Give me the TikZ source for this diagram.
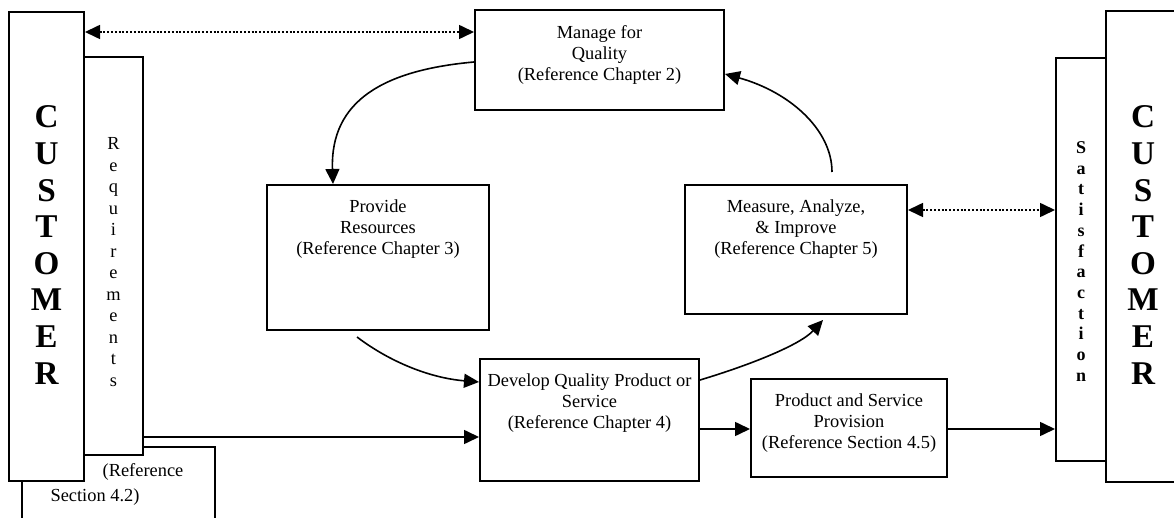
\documentclass[tikz,border=0pt]{standalone}
\usepackage{fontspec}
\setmainfont{Liberation Serif}
\usetikzlibrary{arrows.meta}
\begin{document}
\begin{tikzpicture}[x=0.5pt,y=-0.5pt,
  box/.style={draw,line width=1pt,fill=white,rectangle,inner sep=0pt},
  txt/.style={align=center,font=\fontsize{9.2}{10.7}\selectfont,inner sep=0pt},
  bigletter/.style={anchor=base,inner sep=0pt,font=\bfseries\fontsize{16.6}{18}\selectfont},
  reqletter/.style={anchor=base,inner sep=0pt,font=\fontsize{9.2}{10}\selectfont},
  satletter/.style={anchor=base,inner sep=0pt,font=\bfseries\fontsize{9}{10}\selectfont},
  arr/.style={-{Triangle[length=7.5pt,width=7pt]},line width=0.8pt},
  darr/.style={{Triangle[length=7.5pt,width=7pt]}-{Triangle[length=7.5pt,width=7pt]},line width=0.8pt,dash pattern=on 1pt off 0.9pt}]
\useasboundingbox (0,0) rectangle (1174,518);
\clip (0,0) rectangle (1174,518);
\fill[white] (0,0) rectangle (1174,518);

% boxes
\node[box,minimum width=96.5pt,minimum height=46.5pt] (sec) at (118.5,493.5) {};
\node[box,minimum width=37.5pt,minimum height=234.5pt] (custL) at (46.5,246.5) {};
\node[box,minimum width=29.5pt,minimum height=199pt] (req) at (113.5,256) {};
\node[box,minimum width=124.5pt,minimum height=50pt] (manage) at (599.5,60) {};
\node[box,minimum width=111pt,minimum height=72.5pt] (provide) at (378,257.5) {};
\node[box,minimum width=111pt,minimum height=64.5pt] (measure) at (796,249.5) {};
\node[box,minimum width=109.5pt,minimum height=61pt] (develop) at (589.5,420) {};
\node[box,minimum width=98pt,minimum height=49pt] (product) at (849,428) {};
\node[box,minimum width=25pt,minimum height=201.5pt] (sat) at (1081,259.5) {};
\node[box,minimum width=39.5pt,minimum height=235.5pt] (custR) at (1145.5,246.5) {};

% vertical words
\foreach \l [count=\i from 0] in {C,U,S,T,O,M,E,R}
  \node[bigletter] (cl\i) at (46.5,128+36.6*\i) {\l};
\foreach \l [count=\i from 0] in {C,U,S,T,O,M,E,R}
  \node[bigletter] (cr\i) at (1143,128+36.6*\i) {\l};
\foreach \l [count=\i from 0] in {R,e,q,u,i,r,e,m,e,n,t,s}
  \node[reqletter] (rq\i) at (113.5,150+21.5*\i) {\l};
\foreach \l [count=\i from 0] in {S,a,t,i,s,f,a,c,t,i,o,n}
  \node[satletter] (st\i) at (1081,153.6+20.7*\i) {\l};

% box texts
\node[txt] (tmanage) at (599.5,55) {Manage for\\Quality\\(Reference Chapter 2)};
\node[txt] (tprovide) at (378,229) {Provide\\Resources\\(Reference Chapter 3)};
\node[txt] (tmeasure) at (796,229) {Measure, Analyze,\\\& Improve\\(Reference Chapter 5)};
\node[txt] (tdevelop) at (589.5,403) {Develop Quality Product or\\Service\\(Reference Chapter 4)};
\node[txt] (tproduct) at (849,423) {Product and Service\\Provision\\(Reference Section 4.5)};
\node[txt] (tsec1) at (143,472) {(Reference};
\node[txt] (tsec2) at (95,497) {Section 4.2)};

% free ends
\coordinate (c2s) at (357,337);
\coordinate (c3e) at (823,320);
\coordinate (c4s) at (832,172);

% connectors
\draw[darr] (custL.east |- 0,32) -- (manage.west |- 0,32);
\draw[darr] (measure.east |- 0,210) -- (sat.west |- 0,210);
\draw[arr] (req.east |- 0,437) -- (develop.west |- 0,437);
\draw[arr] (develop.east |- 0,429) -- (product.west |- 0,429);
\draw[arr] (product.east |- 0,429) -- (sat.west |- 0,429);

\draw[arr] (manage.west |- 0,62) .. controls (385,70) and (330,100) .. (provide.north -| 333,0);
\draw[arr] (c2s) .. controls (390,362) and (430,378) .. (develop.west |- 0,382);
\draw[arr] (develop.east |- 0,380) .. controls (750,365) and (800,345) .. (c3e);
\draw[arr] (c4s) .. controls (832,130) and (790,92) .. (manage.east |- 0,74);
\end{tikzpicture}
\end{document}
